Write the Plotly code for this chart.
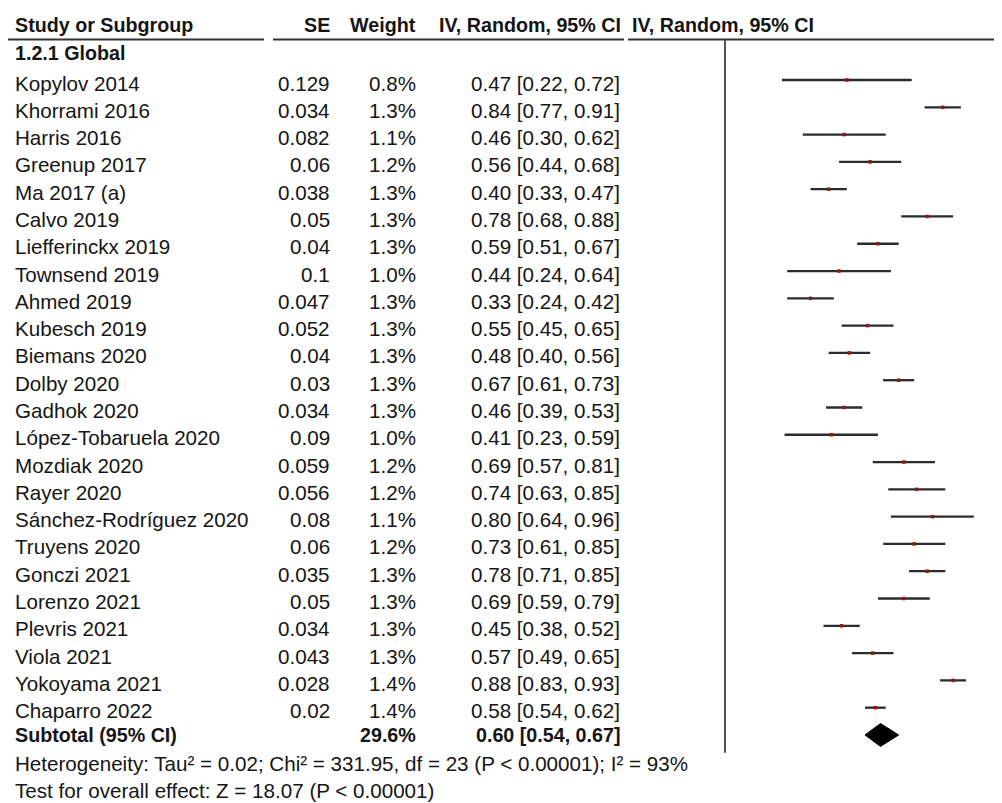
import plotly.graph_objects as go

# ---------------- data ----------------
studies = ["Kopylov 2014", "Khorrami 2016", "Harris 2016", "Greenup 2017", "Ma 2017 (a)",
           "Calvo 2019", "Liefferinckx 2019", "Townsend 2019", "Ahmed 2019", "Kubesch 2019",
           "Biemans 2020", "Dolby 2020", "Gadhok 2020", "López-Tobaruela 2020", "Mozdiak 2020",
           "Rayer 2020", "Sánchez-Rodríguez 2020", "Truyens 2020", "Gonczi 2021", "Lorenzo 2021",
           "Plevris 2021", "Viola 2021", "Yokoyama 2021", "Chaparro 2022"]
se = [0.129, 0.034, 0.082, 0.06, 0.038, 0.05, 0.04, 0.1, 0.047, 0.052, 0.04, 0.03,
      0.034, 0.09, 0.059, 0.056, 0.08, 0.06, 0.035, 0.05, 0.034, 0.043, 0.028, 0.02]
weight = [0.8, 1.3, 1.1, 1.2, 1.3, 1.3, 1.3, 1.0, 1.3, 1.3, 1.3, 1.3,
          1.3, 1.0, 1.2, 1.2, 1.1, 1.2, 1.3, 1.3, 1.3, 1.3, 1.4, 1.4]
est = [0.47, 0.84, 0.46, 0.56, 0.40, 0.78, 0.59, 0.44, 0.33, 0.55, 0.48, 0.67,
       0.46, 0.41, 0.69, 0.74, 0.80, 0.73, 0.78, 0.69, 0.45, 0.57, 0.88, 0.58]
lo = [0.22, 0.77, 0.30, 0.44, 0.33, 0.68, 0.51, 0.24, 0.24, 0.45, 0.40, 0.61,
      0.39, 0.23, 0.57, 0.63, 0.64, 0.61, 0.71, 0.59, 0.38, 0.49, 0.83, 0.54]
hi = [0.72, 0.91, 0.62, 0.68, 0.47, 0.88, 0.67, 0.64, 0.42, 0.65, 0.56, 0.73,
      0.53, 0.59, 0.81, 0.85, 0.96, 0.85, 0.85, 0.79, 0.52, 0.65, 0.93, 0.62]

subgroup_label = "1.2.1 Global"
subtotal_label = "Subtotal (95% CI)"
subtotal_weight = 29.6
subtotal_est, subtotal_lo, subtotal_hi = 0.60, 0.54, 0.67
headers = ["Study or Subgroup", "SE", "Weight", "IV, Random, 95% CI", "IV, Random, 95% CI"]
heterogeneity = "Heterogeneity: Tau² = 0.02; Chi² = 331.95, df = 23 (P < 0.00001); I² = 93%"
overall = "Test for overall effect: Z = 18.07 (P < 0.00001)"

# ---------------- layout geometry ----------------
W, H = 994, 795          # page body has an 8px margin
def px(x):
    return x / W

FONT = "Liberation Sans, Arial, sans-serif"
FS = 20.6
FSB = 19.7
TXT = "#151515"
n = len(studies)
sub_row = n

fig = go.Figure()

# CI lines
xs, ys = [], []
for i in range(n):
    xs += [lo[i], hi[i], None]
    ys += [i, i, None]
fig.add_trace(go.Scatter(x=xs, y=ys, mode="lines",
                         line=dict(color="#2b2b2b", width=2.3),
                         hoverinfo="skip", showlegend=False))
# point estimates
fig.add_trace(go.Scatter(x=est, y=list(range(n)), mode="markers",
                         marker=dict(symbol="square", size=3.5, color="#8b1a1a"),
                         showlegend=False))
# diamond
dh = 0.42
fig.add_trace(go.Scatter(
    x=[subtotal_lo, subtotal_est, subtotal_hi, subtotal_est, subtotal_lo],
    y=[sub_row, sub_row - dh, sub_row, sub_row + dh, sub_row],
    mode="lines", fill="toself", fillcolor="#000000",
    line=dict(color="#000000", width=1), showlegend=False))

annotations = []
def txt(x, y, s, anchor="left", bold=False, yshift=0):
    annotations.append(dict(
        x=px(x), xref="paper", y=y, yref="y", text=f"<b>{s}</b>" if bold else s,
        showarrow=False, xanchor=anchor, yanchor="middle", yshift=yshift,
        font=dict(family=FONT, size=FSB if bold else FS, color=TXT)))

XL, XSE, XW, XCI, XF = 5, 324, 410, 614, 622

# headers
hrow = -2.0
txt(XL, hrow, headers[0], bold=True)
txt(XSE, hrow, headers[1], "right", bold=True)
txt(XW, hrow, headers[2], "right", bold=True)
txt(XCI + 1, hrow, headers[3], "right", bold=True)
txt(XF, hrow, headers[4], "left", bold=True)
txt(XL, -1.0, subgroup_label, bold=True)

for i in range(n):
    txt(XL, i, studies[i], yshift=-3)
    txt(XSE, i, f"{se[i]}", "right", yshift=-3)
    txt(XW, i, f"{weight[i]:.1f}%", "right", yshift=-3)
    txt(XCI, i, f"{est[i]:.2f} [{lo[i]:.2f}, {hi[i]:.2f}]", "right", yshift=-3)

txt(XL, sub_row, subtotal_label, bold=True)
txt(XW, sub_row, f"{subtotal_weight:.1f}%", "right", bold=True)
txt(XCI, sub_row, f"{subtotal_est:.2f} [{subtotal_lo:.2f}, {subtotal_hi:.2f}]", "right", bold=True)
txt(XL, sub_row + 1.05, heterogeneity)
txt(XL, sub_row + 2.03, overall)

ROW0, ROWH = 72.0, 27.29
shapes = []
uy = (31.5 - ROW0) / ROWH
for a, b in [(0, 256), (265, 616), (620, W)]:
    shapes.append(dict(type="line", xref="paper", yref="y", x0=px(a), x1=px(b),
                       y0=uy, y1=uy, line=dict(color="#333333", width=2)))
# null line
shapes.append(dict(type="line", xref="x", yref="y", x0=0, x1=0,
                   y0=uy, y1=(744.7 - ROW0) / ROWH,
                   line=dict(color="#555555", width=2)))

x0px, scale = 717.0, 259.2
fig.update_layout(
    width=W, height=H, margin=dict(l=0, r=0, t=0, b=0),
    paper_bgcolor="white", plot_bgcolor="white",
    annotations=annotations, shapes=shapes, showlegend=False,
    xaxis=dict(domain=[px(619), 1.0], range=[(619 - x0px) / scale, (W - x0px) / scale],
               visible=False, showgrid=False, zeroline=False, fixedrange=True),
    yaxis=dict(domain=[0, 1], range=[(H - ROW0) / ROWH, -ROW0 / ROWH],
               visible=False, showgrid=False, zeroline=False, fixedrange=True),
)
fig.write_html("out.html")
